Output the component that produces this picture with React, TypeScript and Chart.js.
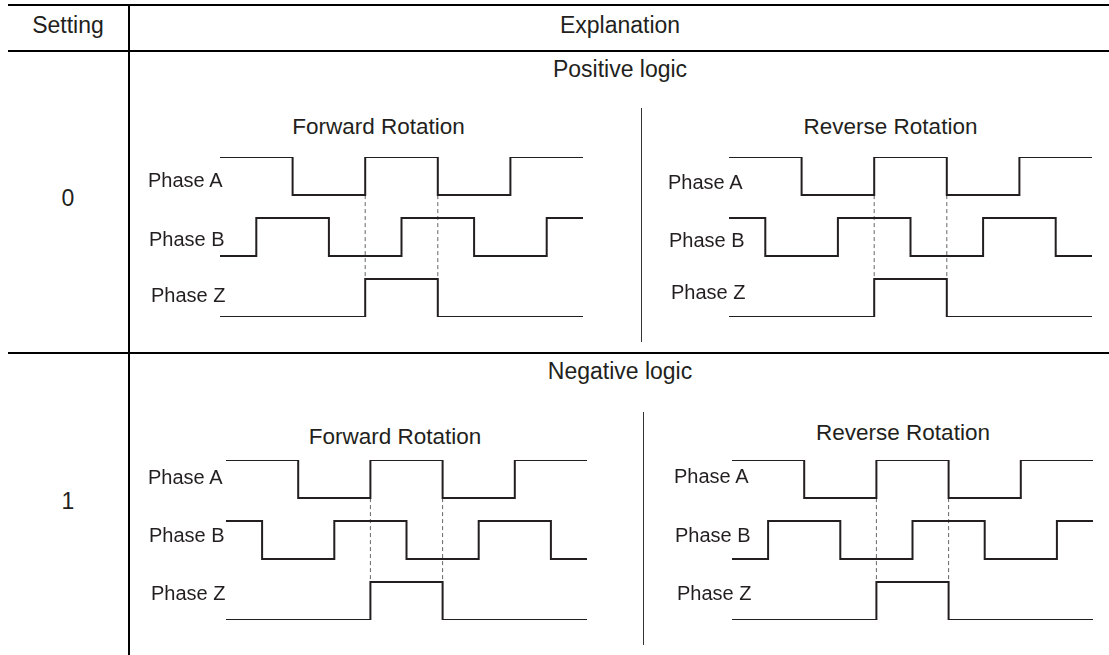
import React, { useEffect, useRef } from "react";
import { Chart, registerables } from "chart.js";
Chart.register(...registerables);

// ---- data (time axis in quarter periods, levels 0 = low, 1 = high) ----
const timeSteps = [0, 1, 2, 3, 4, 5, 6, 7, 8, 9, 10];
const phaseA = [1, 1, 0, 0, 1, 1, 0, 0, 1, 1];
const phaseBForwardPositive = [0, 1, 1, 0, 0, 1, 1, 0, 0, 1];
const phaseBReversePositive = [1, 0, 0, 1, 1, 0, 0, 1, 1, 0];
const phaseBForwardNegative = [1, 0, 0, 1, 1, 0, 0, 1, 1, 0];
const phaseBReverseNegative = [0, 1, 1, 0, 0, 1, 1, 0, 0, 1];
const phaseZ = [0, 0, 0, 0, 1, 1, 0, 0, 0, 0];
const channelLabels = ["Phase A", "Phase B", "Phase Z"];
const headerLabels = ["Setting", "Explanation"];
const settingValues = ["0", "1"];
const logicTitles = ["Positive logic", "Negative logic"];
const rotationTitles = ["Forward Rotation", "Reverse Rotation"];

// ---- style / layout ----
const FONT = '"Liberation Sans", Arial, Helvetica, sans-serif';
const INK = "#231f20";
const AMP_PX = 38;
const CH_GAP = 1.6;
const Y_MAX = 2 * CH_GAP + 1;
const PAD = 6;

function WavePanel({ x0, x1, yTop, b }: { x0: number; x1: number; yTop: number; b: number[] }) {
  const ref = useRef<HTMLCanvasElement>(null);
  const w = Math.round(x1 - x0 + 2 * PAD);
  const h = Math.round(Y_MAX * AMP_PX + 2 * PAD);
  useEffect(() => {
    const last = timeSteps[timeSteps.length - 1];
    const toPts = (bits: number[], base: number) =>
      timeSteps.map((t, i) => ({ x: t, y: base + bits[Math.min(i, bits.length - 1)] }));
    const edges: number[] = [];
    for (let i = 1; i < phaseZ.length; i++) if (phaseZ[i] !== phaseZ[i - 1]) edges.push(timeSteps[i]);
    const wave = (bits: number[], base: number) => ({
      data: toPts(bits, base),
      stepped: "before" as const,
      borderColor: INK,
      borderWidth: 2,
      pointRadius: 0,
      fill: false,
      borderCapStyle: "butt" as const,
      borderJoinStyle: "miter" as const,
    });
    const guides = edges.map((e) => ({
      data: [
        { x: e, y: 2 * CH_GAP },
        { x: e, y: 1 },
      ],
      borderColor: "#666",
      borderWidth: 1,
      borderDash: [4, 3],
      pointRadius: 0,
      fill: false,
    }));
    const chart = new Chart(ref.current as HTMLCanvasElement, {
      type: "line",
      data: { datasets: [wave(phaseA, 2 * CH_GAP), wave(b, CH_GAP), wave(phaseZ, 0), ...guides] as any },
      options: {
        animation: false,
        responsive: false,
        maintainAspectRatio: false,
        events: [],
        layout: { padding: PAD },
        plugins: { legend: { display: false }, tooltip: { enabled: false } },
        scales: {
          x: { type: "linear", min: 0, max: last, display: false },
          y: { type: "linear", min: 0, max: Y_MAX, display: false },
        },
        elements: { line: { tension: 0 } },
      },
    });
    return () => chart.destroy();
  }, []);
  return (
    <canvas
      ref={ref}
      width={w}
      height={h}
      style={{ position: "absolute", left: x0 - PAD, top: yTop - PAD, width: w, height: h }}
    />
  );
}

function Txt({ x, y, size, children, center = true }: any) {
  return (
    <div
      style={{
        position: "absolute",
        left: x,
        top: y,
        transform: center ? "translate(-50%, -50%)" : "translate(0, -50%)",
        fontFamily: FONT,
        fontSize: size,
        lineHeight: 1,
        whiteSpace: "nowrap",
        color: INK,
      }}
    >
      {children}
    </div>
  );
}

function HLine({ x, y, w, t = 2, c = "#000" }: any) {
  return <div style={{ position: "absolute", left: x, top: y - t / 2, width: w, height: t, background: c }} />;
}
function VLine({ x, y, h, t = 2, c = "#000" }: any) {
  return <div style={{ position: "absolute", left: x - t / 2, top: y, width: t, height: h, background: c }} />;
}

const panels = [
  { x0: 220, x1: 582.7, yTop: 157.3, b: phaseBForwardPositive, lx: 148, ly: [180, 238.7, 295] },
  { x0: 729, x1: 1091.7, yTop: 157.3, b: phaseBReversePositive, lx: 668, ly: [182, 240, 292] },
  { x0: 225.5, x1: 586.5, yTop: 460.3, b: phaseBForwardNegative, lx: 148, ly: [477, 535, 592.7] },
  { x0: 731.5, x1: 1092, yTop: 460.3, b: phaseBReverseNegative, lx: 674, ly: [476, 535, 592.7] },
];

export default function App() {
  return (
    <div
      style={{
        position: "fixed",
        left: 0,
        top: 0,
        width: 1109,
        height: 655,
        background: "#fff",
        overflow: "hidden",
      }}
    >
      {/* table rules */}
      <HLine x={8} y={5} w={1101} />
      <HLine x={8} y={50.5} w={1101} />
      <HLine x={8} y={352.5} w={1101} />
      <VLine x={128.5} y={4} h={651} />

      {/* header */}
      <Txt x={68} y={25} size={23}>{headerLabels[0]}</Txt>
      <Txt x={620} y={25} size={23}>{headerLabels[1]}</Txt>
      <Txt x={68} y={198} size={23}>{settingValues[0]}</Txt>
      <Txt x={68} y={501} size={23}>{settingValues[1]}</Txt>
      <Txt x={620} y={69} size={23}>{logicTitles[0]}</Txt>
      <Txt x={620} y={371} size={23}>{logicTitles[1]}</Txt>

      {/* panel separators */}
      <VLine x={641.5} y={108} h={234} t={1.5} c="#333" />
      <VLine x={643.5} y={412} h={233} t={1.5} c="#333" />

      {/* rotation titles */}
      <Txt x={378.5} y={127} size={22.5}>{rotationTitles[0]}</Txt>
      <Txt x={890.5} y={127} size={22.5}>{rotationTitles[1]}</Txt>
      <Txt x={395} y={437} size={22.5}>{rotationTitles[0]}</Txt>
      <Txt x={903} y={433} size={22.5}>{rotationTitles[1]}</Txt>

      {panels.map((p, i) => (
        <React.Fragment key={i}>
          <WavePanel x0={p.x0} x1={p.x1} yTop={p.yTop} b={p.b} />
          {channelLabels.map((l, k) => (
            <Txt key={k} x={p.lx + (k === 2 ? 3 : k === 1 ? 1 : 0)} y={p.ly[k]} size={20} center={false}>
              {l}
            </Txt>
          ))}
        </React.Fragment>
      ))}
    </div>
  );
}
